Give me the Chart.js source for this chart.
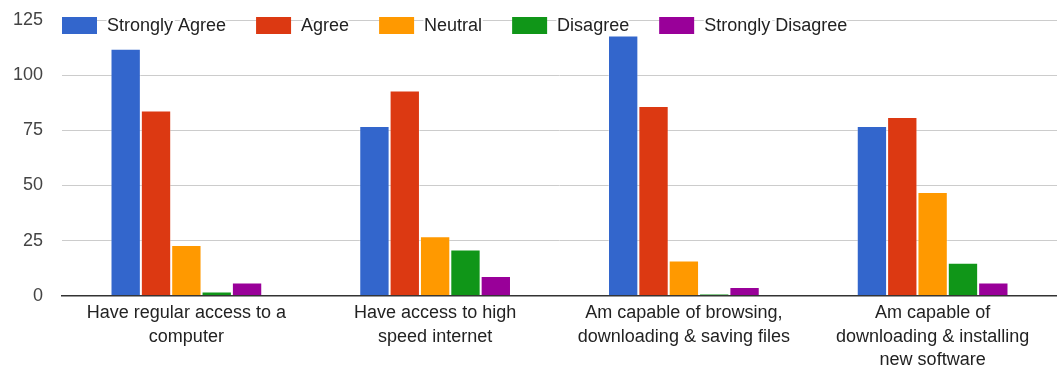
<!DOCTYPE html>
<html>
<head>
<meta charset="utf-8">
<script src="https://cdn.jsdelivr.net/npm/chart.js@4/dist/chart.umd.min.js"></script>
<style>
  html, body { margin: 0; padding: 0; background: #fff; }
  #wrap { width: 1057px; height: 367px; position: relative; }
</style>
</head>
<body>
<div id="wrap"><canvas id="c" width="1057" height="367"></canvas></div>
<script>
// Survey statements (x categories), each wrapped onto lines
const categories = [
  ['Have regular access to a', 'computer'],
  ['Have access to high', 'speed internet'],
  ['Am capable of browsing,', 'downloading & saving files'],
  ['Am capable of', 'downloading & installing', 'new software']
];

// Response counts per answer
const stronglyAgree    = [112, 77, 118, 77];
const agree            = [84, 93, 86, 81];
const neutral          = [23, 27, 16, 47];
const disagree         = [2, 21, 1, 15];
const stronglyDisagree = [6, 9, 4, 6];

const seriesNames  = ['Strongly Agree', 'Agree', 'Neutral', 'Disagree', 'Strongly Disagree'];
const seriesColors = ['#3366cc', '#dc3912', '#ff9900', '#109618', '#990099'];
const seriesValues = [stronglyAgree, agree, neutral, disagree, stronglyDisagree];

const yTicks = [0, 25, 50, 75, 100, 125];

const FONT = '"Liberation Sans", Arial, sans-serif';

// Legend drawn across the top of the plot, with a white halo behind the text
const topLegend = {
  id: 'topLegend',
  afterDatasetsDraw(chart) {
    const ctx = chart.ctx;
    ctx.save();
    ctx.font = '18px ' + FONT;
    ctx.textBaseline = 'middle';
    let x = chart.chartArea.left;
    const boxW = 35, boxH = 17, boxTop = 17;
    const midY = boxTop + boxH / 2;
    chart.data.datasets.forEach(ds => {
      ctx.fillStyle = ds.backgroundColor;
      ctx.fillRect(x, boxTop, boxW, boxH);
      x += boxW + 10;
      ctx.lineJoin = 'round';
      ctx.lineWidth = 4;
      ctx.strokeStyle = '#ffffff';
      ctx.strokeText(ds.label, x, midY + 1);
      ctx.fillStyle = '#222222';
      ctx.fillText(ds.label, x, midY + 1);
      x += ctx.measureText(ds.label).width + 30;
    });
    ctx.restore();
  }
};

new Chart(document.getElementById('c'), {
  type: 'bar',
  data: {
    labels: categories,
    datasets: seriesNames.map((name, i) => ({
      label: name,
      data: seriesValues[i],
      backgroundColor: seriesColors[i],
      borderColor: 'rgba(255,255,255,0.35)',
      borderWidth: 1,
      borderSkipped: 'bottom',
      barPercentage: 1.0,
      categoryPercentage: 0.61
    }))
  },
  options: {
    responsive: false,
    animation: false,
    devicePixelRatio: 1,
    layout: { padding: { left: 13, top: 20, right: 0, bottom: -11 } },
    plugins: {
      legend: { display: false },
      tooltip: { enabled: false }
    },
    scales: {
      x: {
        grid: { display: false, drawTicks: false },
        border: { display: true, color: '#333333', width: 1.5 },
        ticks: {
          color: '#222222',
          font: { family: FONT, size: 18, lineHeight: 1.3 },
          padding: 6,
          maxRotation: 0,
          autoSkip: false
        }
      },
      y: {
        min: 0,
        max: 125,
        afterBuildTicks(axis) { axis.ticks = yTicks.map(v => ({ value: v })); },
        afterFit(axis) {
          axis.width = 49;
          axis.paddingTop = 0;
          axis.paddingBottom = 0;
        },
        grid: { color: '#cccccc', lineWidth: 1, drawTicks: false },
        border: { display: false },
        ticks: {
          color: '#444444',
          font: { family: FONT, size: 18 },
          padding: 19
        }
      }
    }
  },
  plugins: [topLegend]
});
</script>
</body>
</html>
